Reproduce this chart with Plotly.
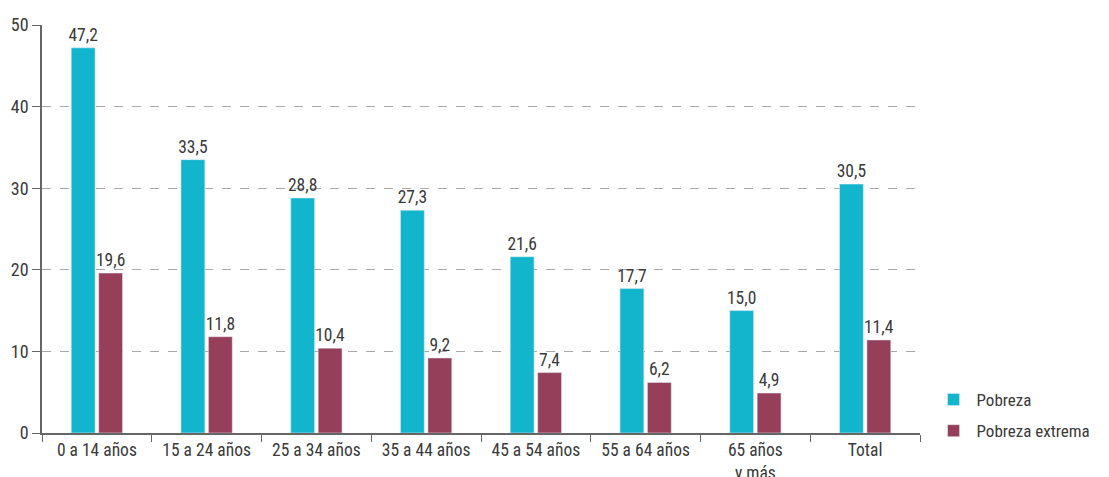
import plotly.graph_objects as go

categories = ["0 a 14 años", "15 a 24 años", "25 a 34 años", "35 a 44 años",
              "45 a 54 años", "55 a 64 años", "65 años<br>y más", "Total"]
pobreza = [47.2, 33.5, 28.8, 27.3, 21.6, 17.7, 15.0, 30.5]
pobreza_extrema = [19.6, 11.8, 10.4, 9.2, 7.4, 6.2, 4.9, 11.4]
y_ticks = [0, 10, 20, 30, 40, 50]

FONT = "Roboto Condensed, Liberation Sans Narrow, Roboto, Arial"
TXT = "#3a3a3a"

def fmt(vals):
    return [f"{v:.1f}".replace(".", ",") for v in vals]

fig = go.Figure()
fig.add_bar(x=categories, y=pobreza, name="Pobreza", marker_color="#13B5CD",
            legendgroup="a",
            text=fmt(pobreza), textposition="outside", cliponaxis=False,
            constraintext="none",
            textfont=dict(size=17.5, color=TXT, family=FONT))
fig.add_bar(x=categories, y=pobreza_extrema, name="Pobreza extrema", marker_color="#963F5A",
            legendgroup="b",
            text=fmt(pobreza_extrema), textposition="outside", cliponaxis=False,
            constraintext="none",
            textfont=dict(size=17.5, color=TXT, family=FONT))

fig.update_layout(
    width=1109, height=477,
    margin=dict(l=34, r=197, t=17, b=52, autoexpand=False),
    paper_bgcolor="white", plot_bgcolor="white",
    barmode="group", bargap=0.5, bargroupgap=0.13,
    font=dict(family=FONT, size=17, color=TXT),
    legend=dict(x=1.012, y=0.125, xanchor="left", yanchor="top",
                font=dict(size=17, color=TXT, family=FONT),
                itemwidth=36, tracegroupgap=6),
)
fig.update_xaxes(showline=True, linecolor="#666", linewidth=1.5, automargin=False,
                 ticks="outside", tickson="boundaries", ticklen=7, tickcolor="#666",
                 tickfont=dict(size=17.5, color=TXT, family=FONT), showgrid=False)
fig.update_yaxes(range=[0, 50], tickvals=y_ticks, showline=True, linecolor="#666", linewidth=1.5,
                 automargin=False,
                 ticks="outside", ticklen=8, tickcolor="#666",
                 showgrid=True, gridcolor="#a8a8a8", griddash="dash", gridwidth=1,
                 zeroline=False, tickfont=dict(size=18, color=TXT, family=FONT))

fig.write_html("out.html")
